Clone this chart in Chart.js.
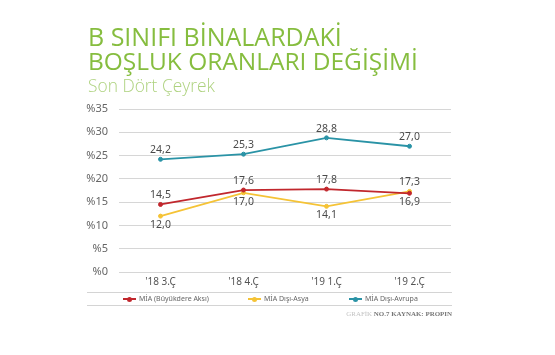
<!DOCTYPE html>
<html>
<head>
<meta charset="utf-8">
<script src="https://cdn.jsdelivr.net/npm/chart.js@4.4.0/dist/chart.umd.min.js"></script>
<style>
  html, body { margin:0; padding:0; background:#fff; }
  #wrap { position:relative; width:555px; height:355px; overflow:hidden; background:#fff; }
  #c { position:absolute; left:0; top:0; }
  .t { position:absolute; white-space:nowrap; font-family:"Open Sans", "Noto Sans", sans-serif; line-height:1; }
  #t1, #t2 { left:88px; color:#86bd3f; font-size:21px; font-weight:400; }
  #t1 { top:24px; }
  #t2 { top:49px; }
  #sub { left:88px; top:77px; color:#aed27f; font-size:16.5px; font-weight:300; }
  #legend { position:absolute; left:87px; top:292px; width:365px; height:12px;
            border-top:1px solid #d4d4d4; border-bottom:1px solid #d4d4d4; }
  .li { position:absolute; top:0; height:12px; font-family:"Noto Sans", sans-serif; font-size:7px; color:#666; line-height:12px; white-space:nowrap; }
  .mk { position:absolute; top:5px; width:13px; height:2px; }
  .mk i { position:absolute; left:4px; top:-1.5px; width:5px; height:5px; border-radius:50%; }
  #foot { position:absolute; right:103px; top:310px; font-family:"Liberation Serif", serif; font-size:8.5px; color:#777; font-weight:bold; white-space:nowrap; }
  #foot span { color:#c4c4c4; font-weight:normal; }
</style>
</head>
<body>
<div id="wrap">
  <canvas id="c" width="555" height="355"></canvas>
  <div class="t" id="t1">B SINIFI BİNALARDAKİ</div>
  <div class="t" id="t2">BOŞLUK ORANLARI DEĞİŞİMİ</div>
  <div class="t" id="sub">Son Dört Çeyrek</div>
  <div id="legend"></div>
  <div id="foot"><span>GRAFİK</span> NO.7 KAYNAK: PROPIN</div>
</div>
<script>
// ---- data ----
const categories = ["'18 3.Ç", "'18 4.Ç", "'19 1.Ç", "'19 2.Ç"];
const seriesNames = ["MİA (Büyükdere Aksı)", "MİA Dışı-Asya", "MİA Dışı-Avrupa"];
const miaBuyukdere = [14.5, 17.6, 17.8, 16.9];
const miaDisiAsya = [12.0, 17.0, 14.1, 17.3];
const miaDisiAvrupa = [24.2, 25.3, 28.8, 27.0];
const yTicks = [0, 5, 10, 15, 20, 25, 30, 35];

const colors = ["#c1272d", "#f5c336", "#2a93a6"];
// label placement: 1 = above, -1 = below
const labelSide = [[1, 1, 1, -1], [-1, -1, -1, 1], [1, 1, 1, 1]];

// fit title widths
function fitWidth(id, target) {
  const el = document.getElementById(id);
  const w = el.getBoundingClientRect().width;
  const fs = parseFloat(getComputedStyle(el).fontSize);
  el.style.fontSize = (fs * target / w) + 'px';
}
fitWidth('t1', 254);
fitWidth('t2', 330);
fitWidth('sub', 127);
fitWidth('foot', 106);

// legend (HTML)
const legendX = [123, 248, 349];
const leg = document.getElementById('legend');
seriesNames.forEach((n, i) => {
  const mk = document.createElement('div');
  mk.className = 'mk';
  mk.style.left = (legendX[i] - 87) + 'px';
  mk.style.background = colors[i];
  const dot = document.createElement('i');
  dot.style.background = colors[i];
  mk.appendChild(dot);
  leg.appendChild(mk);
  const li = document.createElement('div');
  li.className = 'li';
  li.style.left = (legendX[i] - 87 + 16) + 'px';
  li.textContent = n;
  leg.appendChild(li);
});

const dataLabels = {
  id: 'dataLabels',
  afterDatasetsDraw(chart) {
    const ctx = chart.ctx;
    ctx.save();
    ctx.font = '10.5px "Noto Sans", sans-serif';
    ctx.fillStyle = '#4a4a4a';
    ctx.textAlign = 'center';
    ctx.textBaseline = 'middle';
    chart.data.datasets.forEach((ds, di) => {
      const meta = chart.getDatasetMeta(di);
      meta.data.forEach((pt, i) => {
        const side = labelSide[di][i];
        const txt = ds.data[i].toFixed(1).replace('.', ',');
        ctx.fillText(txt, pt.x, pt.y - side * 9);
      });
    });
    ctx.restore();
  }
};

const seriesData = [miaBuyukdere, miaDisiAsya, miaDisiAvrupa];
new Chart(document.getElementById('c'), {
  type: 'line',
  data: {
    labels: categories,
    datasets: seriesData.map((d, i) => ({
      label: seriesNames[i],
      data: d,
      borderColor: colors[i],
      backgroundColor: colors[i],
      pointBackgroundColor: colors[i],
      pointBorderColor: colors[i],
      borderWidth: 1.8,
      pointRadius: 2,
      pointBorderWidth: 1,
      tension: 0,
      fill: false
    }))
  },
  options: {
    responsive: false,
    animation: false,
    devicePixelRatio: 1,
    layout: { padding: { left: 80, right: 104, top: 109, bottom: 0 } },
    plugins: { legend: { display: false }, tooltip: { enabled: false }, title: { display: false } },
    scales: {
      x: {
        offset: true,
        grid: { display: false, drawTicks: false },
        border: { display: false },
        ticks: { color: '#555', font: { family: 'Noto Sans', size: 10 }, padding: 4, maxRotation: 0 },
        afterFit(s) { s.height = 83; }
      },
      y: {
        min: 0, max: 35,
        afterBuildTicks(s) { s.ticks = yTicks.map(v => ({ value: v })); },
        grid: { color: '#d6d6d6', lineWidth: 1, drawTicks: false },
        border: { display: false },
        ticks: { color: '#666', font: { family: 'Noto Sans', size: 11 }, padding: 11, callback: v => '%' + v },
        afterFit(s) { s.width = 39; }
      }
    }
  },
  plugins: [dataLabels]
});
</script>
</body>
</html>
